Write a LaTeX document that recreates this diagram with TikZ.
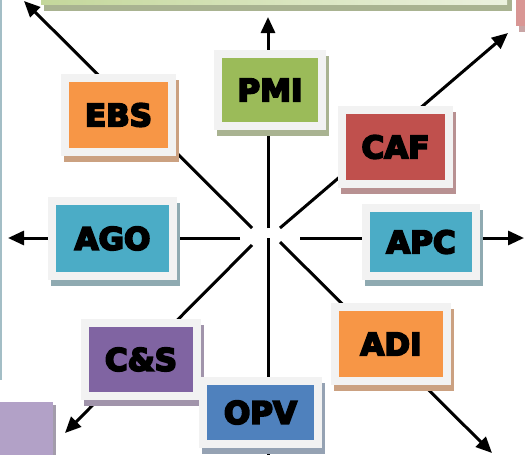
\documentclass[tikz,border=0pt]{standalone}
\usepackage{fontspec}
\usetikzlibrary{arrows.meta}
\newfontfamily\boxfont{DejaVu Sans Bold}[FakeBold=6]
\definecolor{framegray}{HTML}{F2F2F2}
\definecolor{orangeF}{HTML}{F79646}
\definecolor{orangeS}{HTML}{CBA181}
\definecolor{greenF}{HTML}{9BBB59}
\definecolor{greenS}{HTML}{A9B391}
\definecolor{redF}{HTML}{C0504D}
\definecolor{redS}{HTML}{B89192}
\definecolor{aquaF}{HTML}{4BACC6}
\definecolor{aquaS}{HTML}{8FAAB1}
\definecolor{purpleF}{HTML}{8064A2}
\definecolor{purpleS}{HTML}{A194AB}
\definecolor{blueF}{HTML}{4F81BD}
\definecolor{blueS}{HTML}{95A2B3}
\definecolor{edgeblue}{HTML}{A3BEC6}
\definecolor{lilac}{HTML}{B2A1C7}
\definecolor{lilacS}{HTML}{A39CAB}
\definecolor{pinkF}{HTML}{D99694}
\definecolor{pinkS}{HTML}{C9A5A5}
\definecolor{barL}{HTML}{C4D79B}
\definecolor{barR}{HTML}{EBF1DE}
\tikzset{
  cbox/.style 2 args={draw=framegray, line width=8pt, fill=#1,
    preaction={draw=#2, fill=#2, transform canvas={xshift=3pt, yshift=-6pt}},
    font=\boxfont\fontsize{31}{31}\selectfont, text=black, inner sep=0pt},
  conn/.style={line width=3pt, black},
  tip/.style={-{Triangle[length=16pt,width=14pt]}}
}
\begin{document}
\begin{tikzpicture}[x=1pt,y=-1pt]
\useasboundingbox (0,0) rectangle (525,455);
% partial shapes at the picture edges
\fill[greenS] (44,-10) rectangle (512,11);
\shade[left color=barL, right color=barR] (41,-20) rectangle (507,4);
\fill[edgeblue] (0,0) rectangle (2,380);
\fill[lilacS] (3,405) rectangle (56,460);
\fill[lilac] (0,402) rectangle (53,460);
\fill[pinkS] (519,0) rectangle (525,32);
\fill[pinkF] (516,-5) rectangle (525,26);
% coordinates
\coordinate (gN) at (268,228);  \coordinate (tN) at (268,17);
\coordinate (gS) at (268,238);  \coordinate (tS) at (268,460);
\coordinate (gW) at (240,238);  \coordinate (tW) at (8,238);
\coordinate (gE) at (300,238);  \coordinate (tE) at (524,238);
\coordinate (gNW) at (252,228); \coordinate (tNW) at (24,1);
\coordinate (gNE) at (280,228); \coordinate (tNE) at (508,33);
\coordinate (gSW) at (252,245); \coordinate (tSW) at (65,433);
\coordinate (gSE) at (280,242); \coordinate (tSE) at (492,453);
% connectors
\draw[conn,tip] (gN) -- (tN);
\draw[conn] (gS) -- (tS);
\draw[conn,tip] (gW) -- (tW);
\draw[conn,tip] (gE) -- (tE);
\draw[conn,tip] (gNW) -- (tNW);
\draw[conn,tip] (gNE) -- (tNE);
\draw[conn,tip] (gSW) -- (tSW);
\draw[conn,tip] (gSE) -- (tSE);
% boxes
\node[cbox={orangeF}{orangeS}, minimum width=107pt, minimum height=74pt] (ebs) at (118.5,115) {EBS};
\node[cbox={greenF}{greenS}, minimum width=104pt, minimum height=72pt] (pmi) at (270,90) {PMI};
\node[cbox={redF}{redS}, minimum width=107pt, minimum height=74pt] (caf) at (395.5,147) {CAF};
\node[cbox={aquaF}{aquaS}, minimum width=121pt, minimum height=75pt] (ago) at (112.5,238.5) {AGO};
\node[cbox={aquaF}{aquaS}, minimum width=110pt, minimum height=68pt] (apc) at (421,242) {APC};
\node[cbox={orangeF}{orangeS}, minimum width=112pt, minimum height=74pt] (adi) at (391,344) {ADI};
\node[cbox={purpleF}{purpleS}, minimum width=112pt, minimum height=73pt] (cs) at (141,359.5) {C\&S};
\node[cbox={blueF}{blueS}, minimum width=115pt, minimum height=63pt] (opv) at (260.5,412.5) {OPV};
\end{tikzpicture}
\end{document}
